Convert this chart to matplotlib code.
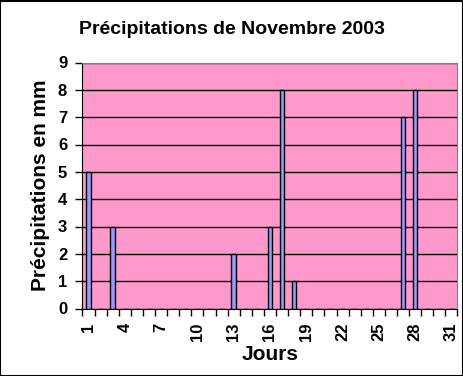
import matplotlib.pyplot as plt
import numpy as np

# Précipitations journalières (mm) - novembre 2003
jours = np.arange(1, 32)
pluie = {1: 5, 3: 3, 13: 2, 16: 3, 17: 8, 18: 1, 27: 7, 28: 8}
valeurs = [pluie.get(j, 0) for j in jours]
etiquettes = [str(j) if (j - 1) % 3 == 0 else "" for j in jours]

plt.rcParams['font.family'] = ['Liberation Sans', 'DejaVu Sans']

fig = plt.figure(figsize=(4.64, 3.76), dpi=100)
fig.patch.set_facecolor('white')
ax = fig.add_axes([82.5 / 464, 1 - 308.5 / 376, 375 / 464, 246 / 376])
ax.set_facecolor('#FF99CC')

x = np.arange(len(jours))
ax.bar(x, valeurs, width=0.38, color='#9999FF', edgecolor='black', linewidth=1, zorder=3)

ax.set_xlim(-0.5, len(jours) - 0.5)
ax.set_ylim(0, 9)
ax.set_yticks(range(0, 10))
ax.yaxis.grid(True, color='black', linewidth=1, zorder=1)
ax.set_axisbelow(True)

# graduations entre les catégories, étiquettes au centre
ax.set_xticks(np.arange(-0.5, len(jours), 1))
ax.set_xticklabels([])
ax.set_xticks(x, minor=True)
ax.set_xticklabels(etiquettes, minor=True, rotation=90, fontsize=12,
                   fontweight='bold', va='top')
ax.tick_params(axis='x', which='major', length=5, width=1, direction='out', color='black')
ax.tick_params(axis='x', which='minor', length=0, pad=10)
ax.tick_params(axis='y', length=5, width=1, labelsize=12, pad=6)
for lab in ax.get_yticklabels():
    lab.set_fontweight('bold')

for s in ['top', 'right']:
    ax.spines[s].set_color('#808080')
for s in ['left', 'bottom']:
    ax.spines[s].set_color('black')

fig.text(0.5, 1 - 30 / 376, "Précipitations de Novembre 2003", fontsize=14,
         fontweight='bold', ha='center', va='center')
ax.set_xlabel("Jours", fontsize=15, fontweight='bold', labelpad=3)
ax.set_ylabel("Précipitations en mm", fontsize=15, fontweight='bold', labelpad=6)

# cadre noir autour du graphique
fig.add_artist(plt.Rectangle((0.001, 0.001), 0.996, 0.996, transform=fig.transFigure,
                             fill=False, edgecolor='black', linewidth=1.5))

fig.savefig('out.png', dpi=100)
